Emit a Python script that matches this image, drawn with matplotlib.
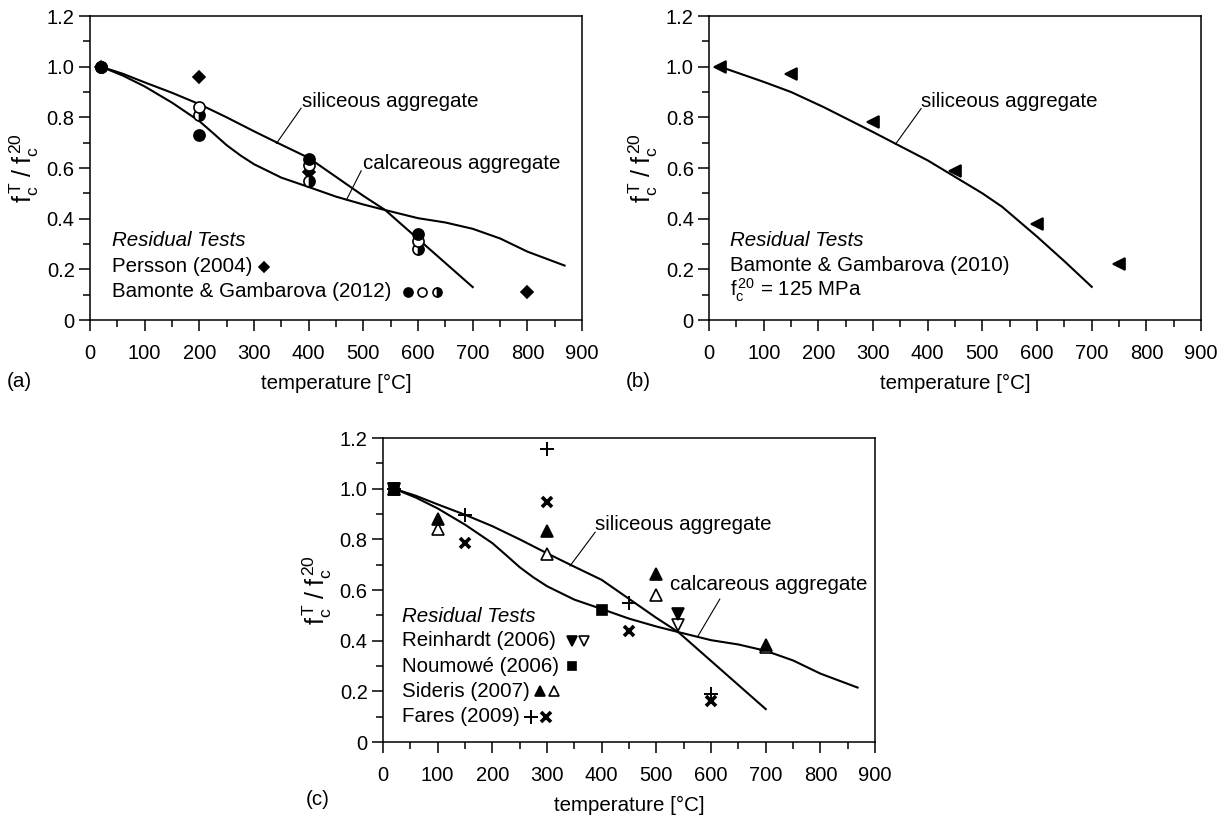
import matplotlib
matplotlib.use('Agg')
import matplotlib.pyplot as plt
from matplotlib.ticker import MultipleLocator, FuncFormatter

plt.rcParams['font.family'] = ['Liberation Sans', 'DejaVu Sans']
plt.rcParams['mathtext.fontset'] = 'custom'
plt.rcParams['mathtext.rm'] = 'Liberation Sans'
plt.rcParams['mathtext.it'] = 'Liberation Sans:italic'
plt.rcParams['font.size'] = 14.8

# model curves (panels a and c share them)
sil_T = [20, 60, 100, 150, 200, 250, 300, 350, 400, 450, 500, 540, 600, 650, 700]
sil_f = [1.0, 0.972, 0.938, 0.897, 0.852, 0.80, 0.745, 0.692, 0.64, 0.565, 0.49, 0.434, 0.32, 0.225, 0.13]
cal_T = [20, 60, 100, 150, 200, 225, 250, 275, 300, 350, 400, 450, 500, 540, 600, 650, 700, 750,
         800, 868]
cal_f = [1.0, 0.965, 0.922, 0.858, 0.785, 0.738, 0.69, 0.65, 0.615, 0.562, 0.525, 0.487, 0.456, 0.434,
         0.402, 0.385, 0.36, 0.322, 0.27, 0.215]

# panel b curve (hsc, siliceous)
hsc_T = [20, 100, 150, 210, 300, 341, 400, 450, 500, 536, 600, 651, 700]
hsc_f = [1.0, 0.94, 0.90, 0.84, 0.742, 0.696, 0.63, 0.565, 0.50, 0.447, 0.329, 0.23, 0.131]

# panel a tests
persson_T = [20, 200, 400, 800]
persson_f = [1.0, 0.96, 0.585, 0.11]
bg12_T = [20, 200, 400, 600]
bg12_full = [1.0, 0.73, 0.637, 0.338]
bg12_open = [1.0, 0.84, 0.61, 0.313]
bg12_half = [1.0, 0.81, 0.549, 0.279]

# panel b tests
bg10_T = [20, 150, 300, 450, 600, 750]
bg10_f = [1.0, 0.97, 0.78, 0.59, 0.378, 0.223]

# panel c tests
rein_T = [20, 540]
rein_full = [1.0, 0.505]
rein_open = [1.0, 0.461]
noum_T = [20, 400]
noum_f = [1.0, 0.523]
sid_T = [20, 100, 300, 500, 700]
sid_full = [1.0, 0.88, 0.833, 0.665, 0.383]
sid_open = [1.0, 0.84, 0.741, 0.58, 0.374]
fares_T = [20, 150, 300, 450, 600]
fares_plus = [1.0, 0.897, 1.157, 0.549, 0.19]
fares_x = [1.0, 0.787, 0.947, 0.439, 0.16]

x_ticks = [0, 100, 200, 300, 400, 500, 600, 700, 800, 900]
y_ticks = [0, 0.2, 0.4, 0.6, 0.8, 1.0, 1.2]

LW = 1.5
K = 'black'


def setup(ax):
    ax.set_xlim(0, 900)
    ax.set_ylim(0, 1.2)
    ax.set_xticks(x_ticks)
    ax.set_yticks(y_ticks)
    ax.xaxis.set_minor_locator(MultipleLocator(50))
    ax.yaxis.set_minor_locator(MultipleLocator(0.1))
    ax.yaxis.set_major_formatter(FuncFormatter(lambda v, p: '0' if v == 0 else '%.1f' % v))
    ax.tick_params(which='major', direction='out', length=8, width=1.1, labelsize=14.5)
    ax.tick_params(which='minor', direction='out', length=5, width=1.1)
    ax.tick_params(axis='x', which='major', pad=9)
    ax.tick_params(axis='y', which='major', pad=3)
    for s in ax.spines.values():
        s.set_linewidth(1.1)
    ax.set_xlabel('temperature [°C]', labelpad=8)
    ax.set_ylabel(r'$\mathregular{f_c^{\,T}\;/\;f_c^{\,20}}$', fontsize=18, labelpad=4)


def mk(ax, x, y, m, ms=8, fill=K, **kw):
    ax.plot(x, y, ls='none', marker=m, ms=ms, mfc=fill, mec=K, mew=1.2, clip_on=False, **kw)


def cross(ax, x, y, m):
    if m == '+':
        ax.plot(x, y, ls='none', marker='+', ms=10, mec=K, mew=1.4, clip_on=False)
    else:
        ax.plot(x, y, ls='none', marker='x', ms=7, mec=K, mew=2.6, clip_on=False)


fig = plt.figure(figsize=(12.28, 8.21), dpi=100)
ax1 = fig.add_axes([0.0733, 0.6102, 0.4007, 0.3703])
ax2 = fig.add_axes([0.5774, 0.6102, 0.4007, 0.3703])
ax3 = fig.add_axes([0.3119, 0.0962, 0.4007, 0.3703])
for a in (ax1, ax2, ax3):
    setup(a)

# (a)
ax1.plot(sil_T, sil_f, color=K, lw=LW)
ax1.plot(cal_T, cal_f, color=K, lw=LW)
mk(ax1, persson_T, persson_f, 'D', ms=6)
mk(ax1, bg12_T, bg12_half, 'o', fill=K, fillstyle='right', markerfacecoloralt='white')
mk(ax1, bg12_T, bg12_open, 'o', fill='white')
mk(ax1, bg12_T, bg12_full, 'o')
ax1.text(387, 0.862, 'siliceous aggregate', va='center')
ax1.plot([386, 341], [0.836, 0.697], color=K, lw=0.8)
ax1.text(500, 0.618, 'calcareous aggregate', va='center')
ax1.plot([496, 469], [0.589, 0.474], color=K, lw=0.8)
ax1.text(40, 0.313, 'Residual Tests', style='italic', va='center')
ax1.text(40, 0.21, 'Persson (2004)', va='center')
mk(ax1, [318], [0.21], 'D', ms=5.5)
ax1.text(40, 0.112, 'Bamonte & Gambarova (2012)', va='center')
mk(ax1, [581], [0.112], 'o', ms=6.5)
mk(ax1, [608], [0.112], 'o', ms=6.5, fill='white')
mk(ax1, [634], [0.112], 'o', ms=6.5, fillstyle='right', markerfacecoloralt='white')

# (b)
ax2.plot(hsc_T, hsc_f, color=K, lw=LW)
mk(ax2, bg10_T, bg10_f, '<', ms=8)
ax2.text(388, 0.861, 'siliceous aggregate', va='center')
ax2.plot([388, 341], [0.835, 0.694], color=K, lw=0.8)
ax2.text(38, 0.315, 'Residual Tests', style='italic', va='center')
ax2.text(38, 0.217, 'Bamonte & Gambarova (2010)', va='center')
ax2.text(38, 0.118, r'$\mathregular{f_c^{\,20}}$ = 125 MPa', va='center')

# (c)
ax3.plot(sil_T, sil_f, color=K, lw=LW)
ax3.plot(cal_T, cal_f, color=K, lw=LW)
mk(ax3, rein_T, rein_open, 'v', fill='white')
mk(ax3, rein_T, rein_full, 'v')
mk(ax3, noum_T, noum_f, 's', ms=7)
mk(ax3, sid_T, sid_open, '^', fill='white')
mk(ax3, sid_T, sid_full, '^')
cross(ax3, fares_T, fares_plus, '+')
cross(ax3, fares_T, fares_x, 'x')
ax3.text(388, 0.857, 'siliceous aggregate', va='center')
ax3.plot([388, 342], [0.828, 0.695], color=K, lw=0.8)
ax3.text(525, 0.621, 'calcareous aggregate', va='center')
ax3.plot([616, 576], [0.564, 0.418], color=K, lw=0.8)
ax3.text(34, 0.497, 'Residual Tests', style='italic', va='center')
ax3.text(34, 0.40, 'Reinhardt (2006)', va='center')
mk(ax3, [345], [0.40], 'v', ms=7)
mk(ax3, [368], [0.40], 'v', ms=7, fill='white')
ax3.text(34, 0.30, 'Noumowé (2006)', va='center')
mk(ax3, [346], [0.30], 's', ms=6)
ax3.text(34, 0.20, 'Sideris (2007)', va='center')
mk(ax3, [288], [0.20], '^', ms=7)
mk(ax3, [313], [0.20], '^', ms=7, fill='white')
ax3.text(34, 0.10, 'Fares (2009)', va='center')
cross(ax3, [270], [0.10], '+')
cross(ax3, [298], [0.10], 'x')

fig.text(7 / 1228, 1 - 381 / 821, '(a)', va='center')
fig.text(626 / 1228, 1 - 381 / 821, '(b)', va='center')
fig.text(306 / 1228, 1 - 799 / 821, '(c)', va='center')

fig.savefig('out.png', dpi=100)
